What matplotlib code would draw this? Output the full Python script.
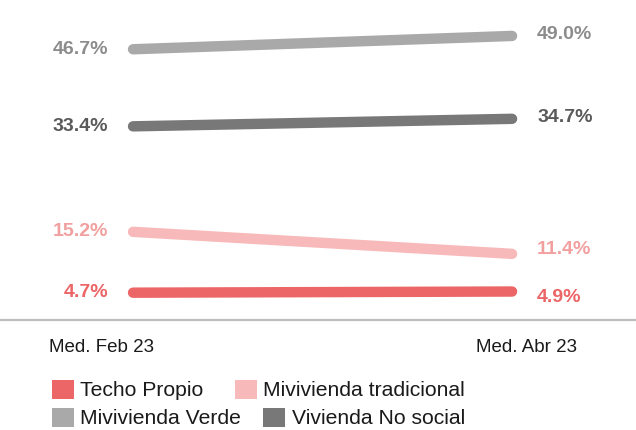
import matplotlib.pyplot as plt
from matplotlib.patches import Patch

plt.rcParams.update({
    'font.family': ['Liberation Sans', 'DejaVu Sans'],
    'font.size': 13,
})

periods = ['Med. Feb 23', 'Med. Abr 23']
series = ['Techo Propio', 'Mivivienda tradicional', 'Mivivienda Verde', 'Vivienda No social']
techo_propio = [4.7, 4.9]
mv_tradicional = [15.2, 11.4]
mv_verde = [46.7, 49.0]
no_social = [33.4, 34.7]

line_colors = ['#ec6567', '#f7b9b9', '#a9a9a9', '#787878']
label_colors = ['#ec6567', '#f29f9f', '#8c8c8c', '#5a5a5a']
# small vertical nudges (points) for the right-hand labels so they don't crowd
right_nudge = [-4, 3, 1, 1]
values = [techo_propio, mv_tradicional, mv_verde, no_social]

fig = plt.figure(figsize=(6.36, 4.3), dpi=100)
ax = fig.add_axes([0, 0.256, 1, 0.744])

x = [0, 1]
for vals, lc, tc, dy in zip(values, line_colors, label_colors, right_nudge):
    ax.plot(x, vals, color=lc, linewidth=7.5, solid_capstyle='round', zorder=3)
    ax.annotate(f'{vals[0]:.1f}%', (x[0], vals[0]), xytext=(-18, 0), textcoords='offset points',
                ha='right', va='center', color=tc, fontsize=14, fontweight='bold')
    ax.annotate(f'{vals[1]:.1f}%', (x[1], vals[1]), xytext=(18, dy), textcoords='offset points',
                ha='left', va='center', color=tc, fontsize=14, fontweight='bold')

ax.set_xlim(-0.351, 1.327)
ax.set_ylim(0, 55.2)
ax.set_yticks([])
ax.set_xticks([-0.082, 1.037])
ax.set_xticklabels(periods, fontsize=13.5, color='#1a1a1a')
ax.tick_params(axis='x', length=0, pad=14)
for s in ['top', 'left', 'right']:
    ax.spines[s].set_visible(False)
ax.spines['bottom'].set_color('#bdbdbd')
ax.spines['bottom'].set_linewidth(1.6)

# legend rows (flowing layout like the original)
def row_legend(idx, y, spacing):
    handles = [Patch(facecolor=line_colors[i], edgecolor='none') for i in idx]
    labels = [series[i] for i in idx]
    leg = fig.legend(handles, labels, loc='center left', bbox_to_anchor=(0.081, y), ncol=2,
                     frameon=False, fontsize=15.2, handlelength=1.05, handleheight=1.05,
                     handletextpad=0.3, columnspacing=spacing, borderpad=0, borderaxespad=0)
    for t in leg.get_texts():
        t.set_color('#1a1a1a')
    return leg

leg1 = row_legend([0, 1], 1 - 390 / 430, 1.5)
leg2 = row_legend([2, 3], 1 - 418 / 430, 1.05)

fig.savefig('out.png', dpi=100)
